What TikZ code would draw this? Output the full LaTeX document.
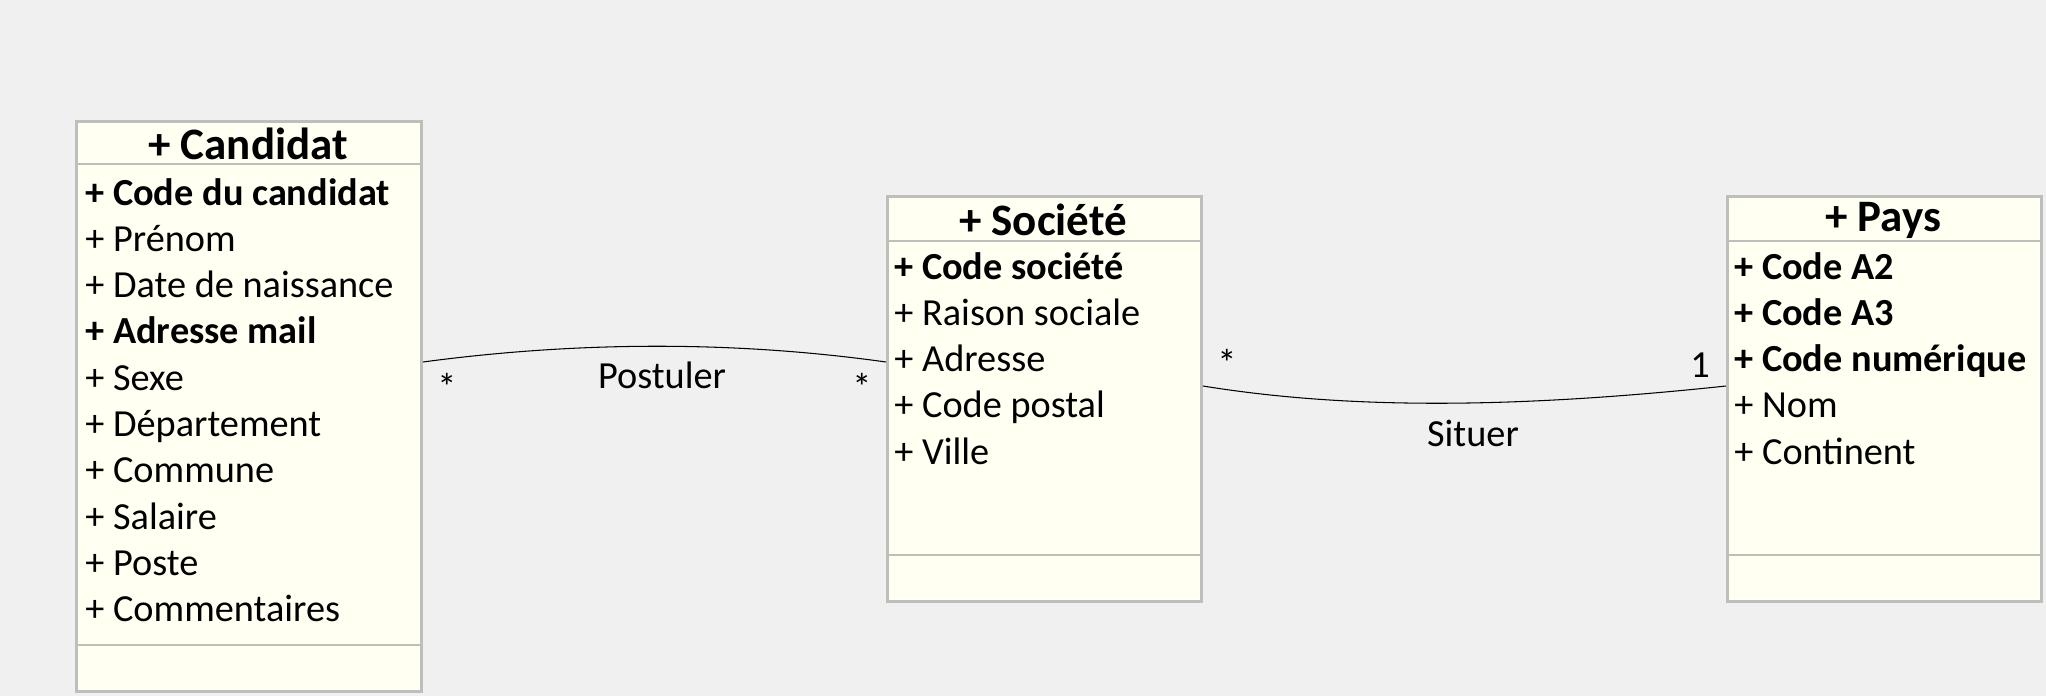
\documentclass[tikz,border=0pt]{standalone}
\usepackage{fontspec}
\setmainfont{Carlito}
\usetikzlibrary{positioning}
\definecolor{bgcol}{RGB}{240,240,240}
\definecolor{boxfill}{RGB}{255,255,242}
\definecolor{boxline}{RGB}{190,190,186}
\tikzset{
  classbox/.style={draw=boxline, fill=boxfill, line width=1.7pt, anchor=north west, inner sep=0pt},
  sepline/.style={draw=boxline, line width=1.7pt},
  titletext/.style={font=\fontsize{25.6}{30}\selectfont\bfseries, inner sep=0pt},
  attrtext/.style={font=\fontsize{21.8}{26}\selectfont, anchor=base west, inner sep=0pt},
  assoc/.style={draw=black, line width=0.6pt},
  assoclabel/.style={font=\fontsize{21.8}{26}\selectfont, inner sep=0pt},
}
\begin{document}
\begin{tikzpicture}[x=0.02cm,y=-0.02cm]
    \fill[bgcol] (0,0) rectangle (2046,696);
    % Candidat
    \node[classbox, minimum width=6.9cm, minimum height=11.4cm] (cand) at (75,120) {};
    \draw[sepline] (75,164) -- (420,164);
    \draw[sepline] (75,645) -- (420,645);
    \node[titletext] (cand-title) at (248,144) {+ Candidat};
    \foreach \t [count=\i] in {{\bfseries + Code du candidat}, + Prénom, + Date de naissance,
        {\bfseries + Adresse mail}, + Sexe, + Département, + Commune, + Salaire, + Poste, + Commentaires}
        \node[attrtext] (cand-\i) at (85,{205+46.3*(\i-1)}) {\t};
    % Societe
    \node[classbox, minimum width=6.28cm, minimum height=8.1cm] (soc) at (886,195) {};
    \draw[sepline] (886,241) -- (1200,241);
    \draw[sepline] (886,555) -- (1200,555);
    \node[titletext] (soc-title) at (1043,220) {+ Société};
    \foreach \t [count=\i] in {{\bfseries + Code société}, + Raison sociale, + Adresse, + Code postal, + Ville}
        \node[attrtext] (soc-\i) at (894,{279+46.3*(\i-1)}) {\t};
    % Pays
    \node[classbox, minimum width=6.28cm, minimum height=8.1cm] (pays) at (1726,195) {};
    \draw[sepline] (1726,241) -- (2040,241);
    \draw[sepline] (1726,555) -- (2040,555);
    \node[titletext] (pays-title) at (1883,220) {+ Pays};
    \foreach \t [count=\i] in {{\bfseries + Code A2}, {\bfseries + Code A3}, {\bfseries + Code numérique}, + Nom, + Continent}
        \node[attrtext] (pays-\i) at (1734,{279+46.3*(\i-1)}) {\t};
    % associations
    \draw[assoc] (cand.east |- 0,362) .. controls (580,341) and (736,341) .. (soc.west |- 0,362);
    \draw[assoc] (soc.east |- 0,386) .. controls (1345,409) and (1510,409) .. (pays.west |- 0,386);
    \node[assoclabel] (postuler) at (662,375) {Postuler};
    \node[assoclabel] (post-m1) at (447,387) {*};
    \node[assoclabel] (post-m2) at (862,387) {*};
    \node[assoclabel] (situer) at (1473,433) {Situer};
    \node[assoclabel] (sit-m1) at (1227,363) {*};
    \node[assoclabel] (sit-m2) at (1700,365) {1};
\end{tikzpicture}
\end{document}
